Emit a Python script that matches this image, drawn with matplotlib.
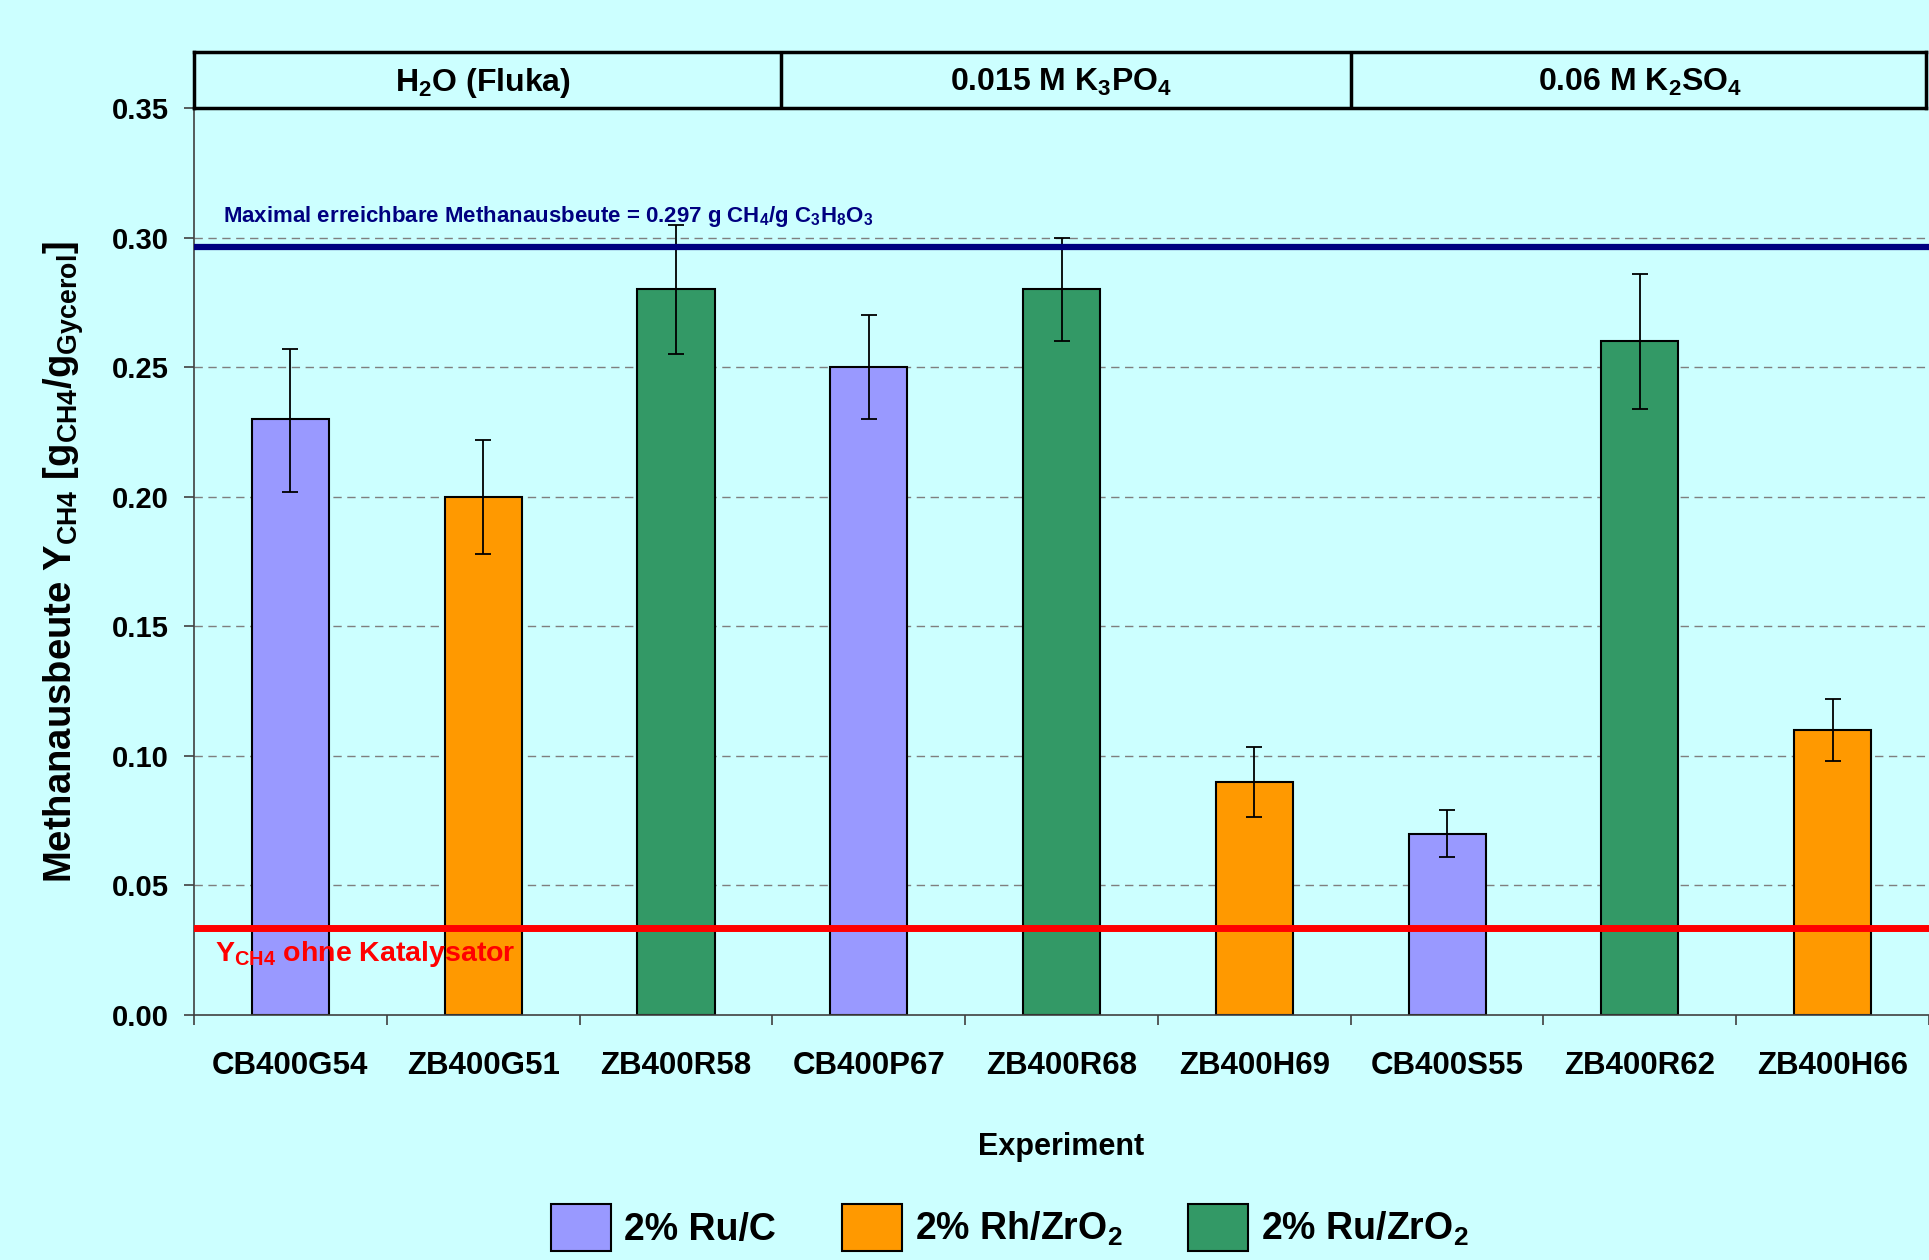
import matplotlib
matplotlib.use("Agg")
import matplotlib.pyplot as plt
from matplotlib.patches import Patch
import numpy as np

plt.rcParams['mathtext.default'] = 'regular'
plt.rcParams['font.family'] = ['Liberation Sans', 'DejaVu Sans']

# ---- data ----
experiments = ["CB400G54", "ZB400G51", "ZB400R58", "CB400P67", "ZB400R68",
               "ZB400H69", "CB400S55", "ZB400R62", "ZB400H66"]
catalyst = ["Ru/C", "Rh/ZrO2", "Ru/ZrO2", "Ru/C", "Ru/ZrO2",
            "Rh/ZrO2", "Ru/C", "Ru/ZrO2", "Rh/ZrO2"]
yields = [0.23, 0.20, 0.28, 0.25, 0.28, 0.09, 0.07, 0.26, 0.11]
err_low = [0.028, 0.022, 0.025, 0.020, 0.020, 0.0135, 0.009, 0.026, 0.012]
err_high = [0.027, 0.022, 0.025, 0.020, 0.020, 0.0135, 0.009, 0.026, 0.012]
groups = ["H$_2$O (Fluka)", "0.015 M K$_3$PO$_4$", "0.06 M K$_2$SO$_4$"]
group_sizes = [3, 3, 3]
max_yield = 0.297
max_yield_line = 0.2963
no_cat_yield = 0.0337
legend_labels = {"Ru/C": "2% Ru/C", "Rh/ZrO2": "2% Rh/ZrO$_2$", "Ru/ZrO2": "2% Ru/ZrO$_2$"}
colors = {"Ru/C": "#9999FF", "Rh/ZrO2": "#FF9900", "Ru/ZrO2": "#339966"}
yticks = [0.00, 0.05, 0.10, 0.15, 0.20, 0.25, 0.30, 0.35]

BG = "#CCFFFF"

fig = plt.figure(figsize=(19.29, 12.60), dpi=100, facecolor=BG)
left, right = 194 / 1929, 1.0
bottom, top = 1 - 1015 / 1260, 1 - 108 / 1260
ax = fig.add_axes([left, bottom, right - left, top - bottom], facecolor=BG)

x = np.arange(len(experiments))
ax.set_xlim(-0.5, len(experiments) - 0.5)
ax.set_ylim(0, 0.35)

for yv in yticks[1:]:
    ax.axhline(yv, color="#7f7f7f", lw=1.0, ls=(0, (6, 4)), zorder=0)

ax.bar(x, yields, width=0.4, color=[colors[c] for c in catalyst],
       edgecolor="black", linewidth=1.5, zorder=2)
ax.errorbar(x, yields, yerr=[err_low, err_high], fmt="none", ecolor="black",
            elinewidth=1.3, capsize=6, capthick=1.3, zorder=3)

ax.axhline(max_yield_line, color="#000080", lw=4.5, zorder=4)
ax.axhline(no_cat_yield, color="#FF0000", lw=5.0, zorder=4)

ax.text(-0.5 + 0.15, 0.3062,
        "Maximal erreichbare Methanausbeute = %.3f g CH$_4$/g C$_3$H$_8$O$_3$" % max_yield,
        color="#000080", fontsize=16, fontweight="bold",
        ha="left", va="baseline", zorder=5)
ax.text(-0.5 + 0.11, 0.0209, "Y$_{CH4}$ ohne Katalysator", color="#FF0000",
        fontsize=20.5, fontweight="bold", ha="left", va="baseline", zorder=5)

# axes styling
for s in ["top", "right"]:
    ax.spines[s].set_visible(False)
for s in ["left", "bottom"]:
    ax.spines[s].set_color("#404040")
    ax.spines[s].set_linewidth(1.2)

ax.set_yticks(yticks)
ax.set_yticklabels(["%.2f" % v for v in yticks], fontsize=21, fontweight="bold")
ax.tick_params(axis="y", length=7, width=1.2, color="#404040", pad=11)

ax.set_xticks(x)
ax.set_xticklabels(experiments, fontsize=22.5, fontweight="bold")
ax.set_xticks(np.arange(-0.5, len(experiments), 1.0), minor=True)
ax.tick_params(axis="x", which="major", length=0, pad=26)
ax.tick_params(axis="x", which="minor", length=7, width=1.2, color="#404040")

ax.set_ylabel("Methanausbeute Y$_{CH4}$ [g$_{CH4}$/g$_{Gycerol}$]",
              fontsize=27.5, fontweight="bold")
ax.yaxis.set_label_coords(-0.062, 0.5)
fig.text(0.5 * (left + right), 1 - 1147 / 1260,
         "Experiment", fontsize=22, fontweight="bold", ha="center", va="center")

# header
hax = fig.add_axes([left, top, 0.9985 - left, (108 - 52) / 1260], facecolor=BG)
hax.set_xlim(-0.5, -0.5 + len(experiments) * (0.9985 - left) / (right - left))
hax.set_ylim(0, 1)
hax.set_xticks([])
hax.set_yticks([])
for s in hax.spines.values():
    s.set_linewidth(2.5)
    s.set_color("black")
divider_offsets = [0.045, 0.0]
start = -0.5
for i, (g, n) in enumerate(zip(groups, group_sizes)):
    end = start + n
    if i < len(divider_offsets):
        hax.axvline(end + divider_offsets[i], color="black", lw=2.5)
    hax.text((start + end) / 2, 0.45, g, fontsize=23, fontweight="bold",
             ha="center", va="center")
    start = end

# legend
order = ["Ru/C", "Rh/ZrO2", "Ru/ZrO2"]
handles = [Patch(facecolor=colors[c], edgecolor="black", linewidth=1.5) for c in order]
fig.legend(handles, [legend_labels[c] for c in order], loc="center",
           bbox_to_anchor=(0.5236, 0.026), ncol=3, frameon=False,
           prop={"weight": "bold", "size": 27},
           handlelength=1.6, handleheight=1.55, handletextpad=0.35, columnspacing=1.75)

fig.savefig("out.png", dpi=100, facecolor=BG)
